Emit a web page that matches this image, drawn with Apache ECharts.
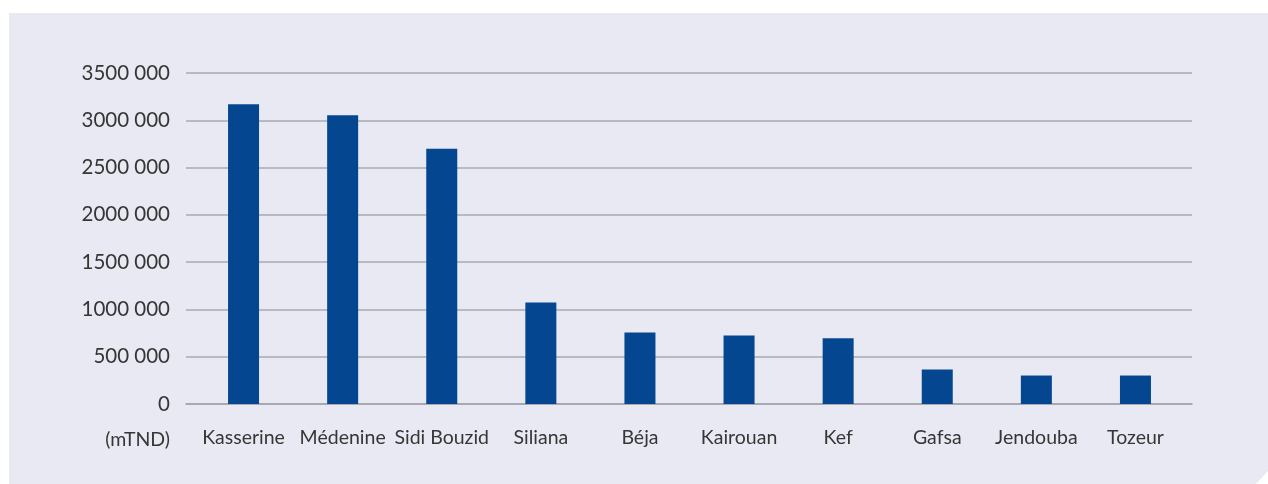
<!DOCTYPE html>
<html>
<head>
<meta charset="utf-8">
<script src="https://cdn.jsdelivr.net/npm/echarts@6/dist/echarts.min.js"></script>
<style>
html,body{margin:0;padding:0;background:#ffffff;width:1268px;height:484px;overflow:hidden;}
#panel{position:absolute;left:9px;top:13px;width:1259px;height:471px;background:#e9e9f3;
clip-path:polygon(0 0,100% 0,100% 458px,1247px 100%,0 100%);}
#chart{position:absolute;left:0;top:0;width:1268px;height:484px;}
</style>
</head>
<body>
<div id="panel"></div>
<div id="chart"></div>
<script>
const categories = ['Kasserine','Médenine','Sidi Bouzid','Siliana','Béja','Kairouan','Kef','Gafsa','Jendouba','Tozeur'];
const values = [3169000, 3053000, 2698000, 1074000, 757000, 725000, 694000, 365000, 301000, 301000];
const yTickValues = [0, 500000, 1000000, 1500000, 2000000, 2500000, 3000000, 3500000];
const yTickLabels = ['0','500 000','1000 000','1500 000','2000 000','2500 000','3000 000','3500 000'];
const unitLabel = '(mTND)';

const chart = echarts.init(document.getElementById('chart'), null, {renderer:'canvas'});
const font = 'Lato, "Noto Sans", sans-serif';
const yMax = 3500000;
chart.setOption({
  backgroundColor: 'transparent',
  animation: false,
  grid: [
    {left: 186, right: 76, top: 73, bottom: 80, containLabel: false},
    {left: 194, right: 83, top: 73, bottom: 80, containLabel: false}
  ],
  xAxis: [{
    type: 'category',
    gridIndex: 0,
    data: categories,
    axisLine: {show: true, lineStyle: {color: '#a3a3ab', width: 1.5}},
    axisTick: {show: false},
    axisLabel: {show: false}
  }, {
    type: 'category',
    gridIndex: 1,
    data: categories,
    axisLine: {show: false},
    axisTick: {show: false},
    axisLabel: {color: '#363636', fontSize: 19.5, fontFamily: font, margin: 24, interval: 0}
  }],
  yAxis: [{
    type: 'value',
    gridIndex: 0,
    min: 0, max: yMax, interval: 500000,
    axisLine: {show: false},
    axisTick: {show: false},
    splitLine: {lineStyle: {color: '#a8a8b0', width: 1.5}},
    axisLabel: {
      color: '#363636', fontSize: 20.5, fontFamily: font, margin: 16,
      formatter: function(v){ const i = yTickValues.indexOf(v); return i >= 0 ? yTickLabels[i] : ''; }
    }
  }, {
    type: 'value',
    gridIndex: 1,
    min: 0, max: yMax, interval: 500000,
    show: false
  }],
  series: [{
    type: 'bar',
    xAxisIndex: 1,
    yAxisIndex: 1,
    data: values,
    barWidth: 31,
    itemStyle: {color: '#04468f'}
  }],
  graphic: [{
    type: 'text',
    x: 170, y: 440,
    style: {text: unitLabel, fill: '#363636', font: '19.5px ' + font, textAlign: 'right', textVerticalAlign: 'middle'}
  }]
});
</script>
</body>
</html>
